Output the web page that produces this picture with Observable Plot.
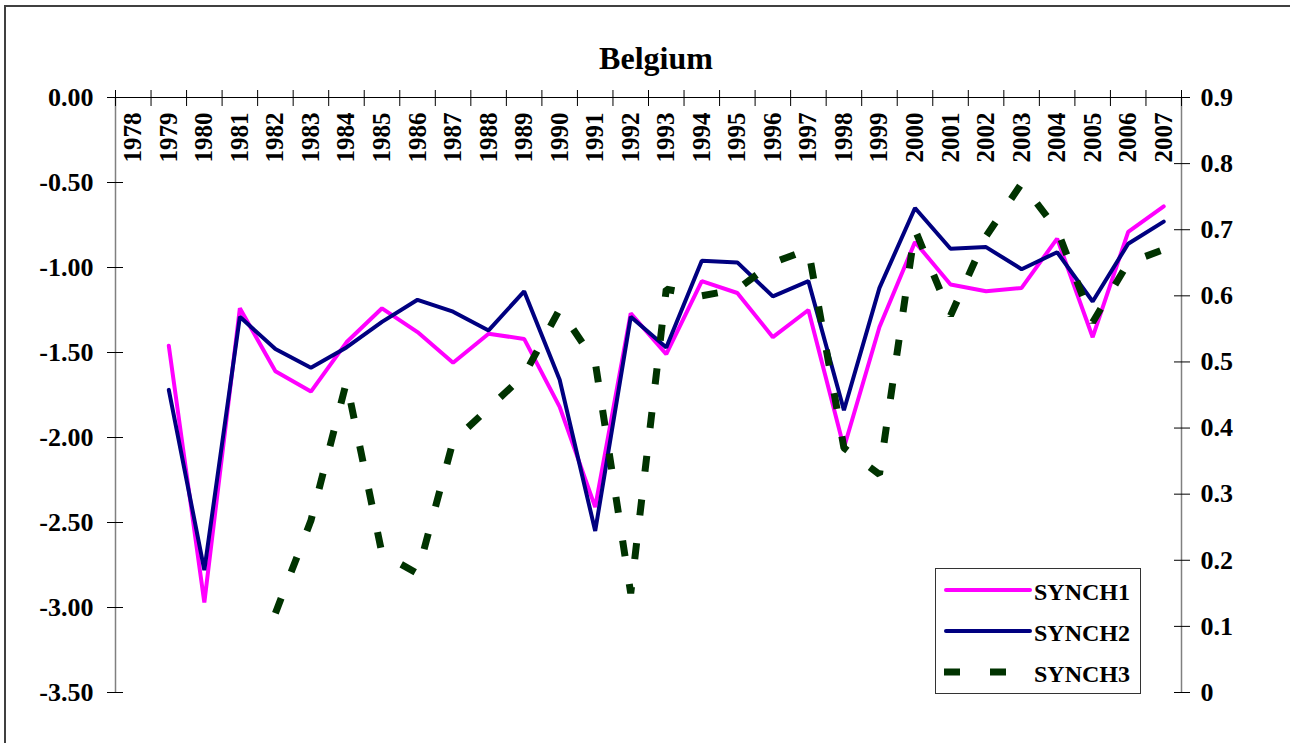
<!DOCTYPE html>
<html><head><meta charset="utf-8">
<script src="https://cdn.jsdelivr.net/npm/d3@7"></script>
<script src="https://cdn.jsdelivr.net/npm/@observablehq/plot@0.6"></script>
<style>
body{margin:0;background:#fff;font-family:"Liberation Serif","Times New Roman",serif;font-weight:bold;}
#wrap{position:relative;width:1290px;height:743px;overflow:hidden;background:#fff;}
#frame{position:absolute;left:4px;top:5px;width:1400px;height:900px;border-left:2px solid #404040;border-top:2px solid #404040;}
#title{position:absolute;left:0;width:1312px;top:42px;text-align:center;font-size:32px;line-height:1;color:#000;}
#chart{position:absolute;left:0;top:0;}
#legend{position:absolute;left:935px;top:568px;width:204px;height:124px;border:1px solid #333;background:#fff;}
.lrow{position:absolute;left:0;width:204px;height:24px;}
.lrow svg{position:absolute;left:8px;top:7px;}
.lrow span{position:absolute;left:98px;top:2px;font-size:24px;line-height:24px;color:#000;}
</style></head>
<body>
<div id="wrap">
  <div id="frame"></div>
  <div id="chart"></div>
  <div id="title">Belgium</div>
  <div id="legend"></div>
</div>
<script>
const years = [1978,1979,1980,1981,1982,1983,1984,1985,1986,1987,1988,1989,1990,1991,1992,1993,1994,1995,1996,1997,1998,1999,2000,2001,2002,2003,2004,2005,2006,2007];
const synch1 = [null,-1.46,-2.97,-1.24,-1.61,-1.73,-1.44,-1.24,-1.38,-1.56,-1.39,-1.42,-1.82,-2.41,-1.27,-1.51,-1.08,-1.15,-1.41,-1.25,-2.06,-1.35,-0.85,-1.10,-1.14,-1.12,-0.83,-1.41,-0.79,-0.64];
const synch2 = [null,-1.72,-2.78,-1.29,-1.48,-1.59,-1.47,-1.32,-1.19,-1.26,-1.37,-1.14,-1.66,-2.55,-1.29,-1.47,-0.96,-0.97,-1.17,-1.08,-1.84,-1.12,-0.65,-0.89,-0.88,-1.01,-0.91,-1.20,-0.86,-0.73];
const synch3 = [null,null,null,null,0.12,0.26,0.47,0.21,0.18,0.38,0.43,0.48,0.58,0.50,0.15,0.61,0.60,0.61,0.65,0.67,0.37,0.33,0.70,0.57,0.69,0.77,0.70,0.56,0.65,0.67];
const leftTicks = [0,-0.5,-1,-1.5,-2,-2.5,-3,-3.5];
const rightTicks = [0,0.1,0.2,0.3,0.4,0.5,0.6,0.7,0.8,0.9];
const seriesNames = ["SYNCH1","SYNCH2","SYNCH3"];
const seriesColors = ["#FF00FF","#000080","#003300"];
const chartTitle = "Belgium";

const L0 = -3.5, L1 = 0, R0 = 0, R1 = 0.9;
const toLeft = v => L0 + (v - R0) / (R1 - R0) * (L1 - L0);
const fromLeft = y => R0 + (y - L0) / (L1 - L0) * (R1 - R0);

const rows = (vals, name, map) => years.map((year, i) => ({year, name, value: vals[i] == null ? NaN : map(vals[i])}));
const rows1 = rows(synch1, seriesNames[0], v => v);
const rows2 = rows(synch2, seriesNames[1], v => v);
const rows3 = rows(synch3, seriesNames[2], toLeft);
const bounds = [...years.map(y => y - 0.5), years[years.length - 1] + 0.5];

const chart = Plot.plot({
  width: 1290, height: 743,
  marginLeft: 115, marginRight: 109, marginTop: 97, marginBottom: 51,
  x: {domain: [bounds[0], bounds[bounds.length - 1]], axis: null},
  y: {domain: [L0, L1], axis: null},
  style: {fontFamily: '"Liberation Serif", "Times New Roman", serif', fontWeight: "bold", background: "transparent", overflow: "visible", color: "#000"},
  marks: [
    Plot.ruleX([bounds[0]], {stroke: "#808080", strokeWidth: 1.5}),
    Plot.ruleX([bounds[bounds.length - 1]], {stroke: "#808080", strokeWidth: 1.5}),
    Plot.ruleY([0], {stroke: "#000", strokeWidth: 1.2}),
    Plot.axisX(bounds, {anchor: "top", tickSize: 16, dy: 8, fill: "none", stroke: "#000", label: null}),
    Plot.axisY(leftTicks, {anchor: "left", tickSize: 16, dx: 8, fill: "none", stroke: "#000", label: null}),
    Plot.axisY(leftTicks, {anchor: "left", tickSize: 0, tickPadding: 22, tickFormat: d => d.toFixed(2), fontSize: 26, label: null}),
    Plot.axisY(rightTicks.map(toLeft), {anchor: "right", tickSize: 16, dx: -8, fill: "none", stroke: "#000", label: null}),
    Plot.axisY(rightTicks.map(toLeft), {anchor: "right", tickSize: 0, tickPadding: 19, fontSize: 26, label: null,
      tickFormat: d => { const v = Math.round(fromLeft(d) * 10) / 10; return v === 0 ? "0" : v.toFixed(1); }}),
    Plot.text(years, {x: d => d, text: d => String(d), frameAnchor: "top", dy: 15, rotate: -90, textAnchor: "end", lineAnchor: "middle", fontSize: 25}),
    Plot.line(rows1, {x: "year", y: "value", stroke: seriesColors[0], strokeWidth: 4, strokeLinejoin: "miter"}),
    Plot.line(rows2, {x: "year", y: "value", stroke: seriesColors[1], strokeWidth: 4, strokeLinejoin: "miter"}),
    Plot.line(rows3, {x: "year", y: "value", stroke: seriesColors[2], strokeWidth: 7, strokeDasharray: "16,28", strokeLinecap: "butt", strokeLinejoin: "miter"})
  ]
});
document.getElementById("chart").appendChild(chart);
document.getElementById("title").textContent = chartTitle;

const legend = document.getElementById("legend");
const rowTops = [9, 50, 91];
seriesNames.forEach((name, i) => {
  const row = document.createElement("div");
  row.className = "lrow";
  row.style.top = rowTops[i] + "px";
  const dash = i === 2 ? ' stroke-dasharray="16,30"' : '';
  const sw = i === 2 ? 7 : 4;
  const cap = i === 2 ? 'butt' : 'round';
  row.innerHTML = `<svg width="90" height="10"><line x1="${i===2?0:2}" y1="5" x2="86" y2="5" stroke="${seriesColors[i]}" stroke-width="${sw}" stroke-linecap="${cap}"${dash}/></svg><span>${name}</span>`;
  legend.appendChild(row);
});
</script>
</body></html>
